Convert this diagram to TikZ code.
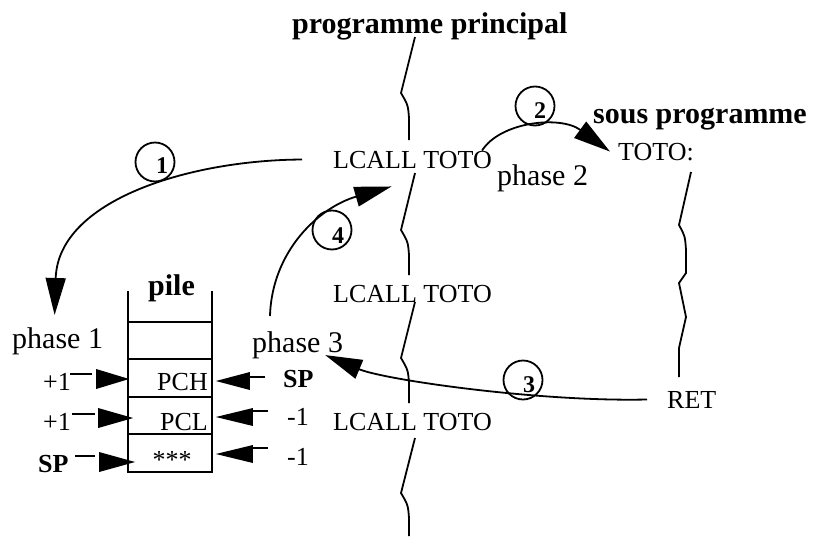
\documentclass[tikz,border=0pt]{standalone}
\usepackage{fontspec}
\setmainfont{Liberation Serif}
\usetikzlibrary{arrows.meta}
\tikzset{
  code/.style={inner sep=0pt, anchor=base west, font=\fontsize{26}{30}\selectfont},
  codeb/.style={inner sep=0pt, anchor=base west, font=\fontsize{26}{30}\selectfont\bfseries},
  phase/.style={inner sep=0pt, anchor=base west, font=\fontsize{30}{36}\selectfont},
  ttl/.style={inner sep=0pt, anchor=base west, font=\fontsize{30}{36}\selectfont\bfseries},
  wave/.style={line width=1.8pt},
  flow/.style={line width=1.8pt, -{Triangle[length=37pt,width=20pt]}},
  head/.style={fill=black},
  tick/.style={line width=1.8pt},
  cell/.style={draw, line width=1.8pt, minimum width=84pt, minimum height=37.5pt, inner sep=0pt},
  numc/.style={draw, circle, line width=1.8pt, minimum size=39pt, inner sep=0pt},
  numt/.style={inner sep=0pt, font=\fontsize{24}{26}\selectfont\bfseries},
}
\begin{document}
\begin{tikzpicture}[x=1pt,y=-1pt]
\useasboundingbox (0,0) rectangle (822,536);

% titles
\node[ttl] (tpp) at (292,33) {programme principal};
\node[ttl] (tsp) at (593,123) {sous programme};

% main program wavy line
\draw[wave] (415,37) -- (401,93) .. controls (408,105) .. (409,118) -- (409,140);
\draw[wave] (415,173) -- (401,230) .. controls (408,242) .. (409,255) -- (409,275);
\draw[wave] (415,302) -- (401,358) .. controls (408,370) .. (409,383) -- (409,403);
\draw[wave] (415,438) -- (401,493) .. controls (408,505) .. (409,518) -- (409,536);

% sub program wavy line
\draw[wave] (691,172) -- (679,225) .. controls (685,236) .. (686,250) -- (686,273)
  -- (679,283) -- (686,317) -- (679,348) -- (679,377);

% code texts
\node[code] (l1) at (333,168) {LCALL TOTO};
\node[code] (l2) at (333,302) {LCALL TOTO};
\node[code] (l3) at (333,430) {LCALL TOTO};
\node[code] (toto) at (618,160) {TOTO:};
\node[code] (ret) at (667,408) {RET};

% phases
\node[phase] (ph1) at (12,348) {phase 1};
\node[phase] (ph2) at (497,185) {phase 2};
\node[phase] (ph3) at (252,352) {phase 3};

% stack
\node[ttl] (pile) at (148,295) {pile};
\draw[tick] (128,291) -- (128,322);
\draw[tick] (212,291) -- (212,322);
\node[cell] (rE) at (170,340.5) {};
\node[cell] (rH) at (170,378) {};
\node[cell] (rL) at (170,415.5) {};
\node[cell] (rS) at (170,453) {};
\node[code, anchor=base east] (tH) at (208,390) {PCH};
\node[code, anchor=base east] (tL) at (208,430) {PCL};
\node[code, anchor=base] (tS) at (172,468) {***};

% left side labels and arrows
\node[code] (p1) at (43,390) {+1};
\node[code] (p2) at (43,430) {+1};
\node[codeb] (spl) at (38,472) {SP};
\draw[tick] (70,374) -- (92,374);
\fill[head] ([xshift=2pt,yshift=-1pt]rH.west) -- ++(-33,-10) -- ++(0,20) -- cycle;
\draw[tick] (72,414) -- (95,414);
\fill[head] ([xshift=6pt,yshift=-2.5pt]rL.west) -- ++(-35,-10) -- ++(0,20) -- cycle;
\draw[tick] (75,456) -- (95,456);
\fill[head] ([xshift=8pt,yshift=-9pt]rS.west) -- ++(-36,-10) -- ++(0,20) -- cycle;

% right side labels and arrows
\node[codeb] (spr) at (283,387) {SP};
\node[code] (m1) at (287,425) {-1};
\node[code] (m2) at (287,465) {-1};
\draw[tick] (246,377) -- (265,377);
\fill[head] ([xshift=3pt,yshift=-3pt]rH.east) -- ++(34,-9) -- ++(0,18) -- cycle;
\draw[tick] (250,411) -- (268,411);
\fill[head] ([xshift=3pt,yshift=-1.5pt]rL.east) -- ++(37,-9) -- ++(0,18) -- cycle;
\draw[tick] (250,448) -- (268,448);
\fill[head] ([xshift=3pt,yshift=-1pt]rS.east) -- ++(37,-9) -- ++(0,18) -- cycle;

% flow arrows
\draw[flow] ([xshift=-31pt]l1.west) .. controls (190,160) and (58,200) .. ([xshift=-3pt,yshift=12pt]ph1.north);
\draw[flow] ([xshift=-10pt]l1.north east) .. controls (500,122) and (560,115) .. ([xshift=-8pt]toto.west);
\draw[flow] ([xshift=-20pt]ret.west) .. controls (540,402) and (385,380) .. ([xshift=-18pt,yshift=3.5pt]ph3.south east);
\draw[flow] ([xshift=18pt,yshift=15pt]ph3.north west) .. controls (272,250) and (320,207) .. ([xshift=-21pt,yshift=-18pt]l1.south);

% numbered circles
\node[numc] (c1) at (155,162) {};
\node[numt] at (162,166) {1};
\node[numc] (c2) at (535,106) {};
\node[numt] at (540,111) {2};
\node[numc] (c3) at (523,380) {};
\node[numt] at (529,385) {3};
\node[numc] (c4) at (332,230) {};
\node[numt] at (338,236) {4};
\end{tikzpicture}
\end{document}
